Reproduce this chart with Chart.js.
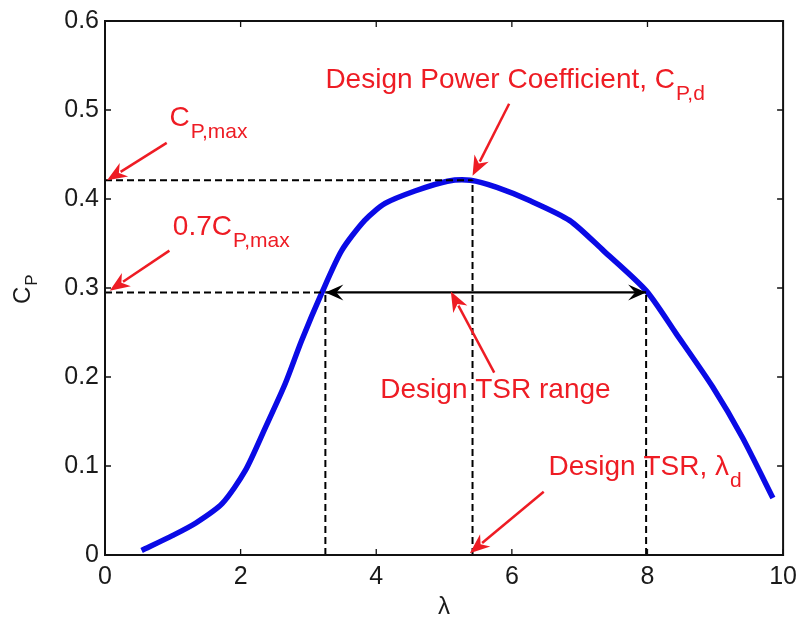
<!DOCTYPE html>
<html>
<head>
<meta charset="utf-8">
<script src="https://cdn.jsdelivr.net/npm/chart.js@4.4.1/dist/chart.umd.min.js"></script>
<style>
  html, body { margin: 0; padding: 0; background: #ffffff; }
  #wrap { width: 804px; height: 624px; }
</style>
</head>
<body>
<div id="wrap"><canvas id="c" width="804" height="624"></canvas></div>
<script>
// ---- Data ----
const lambdaVals = [0.54, 1.0, 1.34, 1.73, 2.07, 2.37, 2.66, 2.9, 3.2, 3.49, 3.83, 4.13, 4.57, 5.05, 5.39, 5.78, 6.27, 6.85, 7.35, 7.98, 8.42, 8.96, 9.4, 9.85];
const cpVals     = [0.005, 0.022, 0.036, 0.058, 0.095, 0.144, 0.193, 0.241, 0.295, 0.342, 0.376, 0.395, 0.409, 0.42, 0.421, 0.413, 0.398, 0.376, 0.342, 0.297, 0.249, 0.189, 0.132, 0.064];

const xTickLabels = ['0', '2', '4', '6', '8', '10'];
const yTickLabels = ['0', '0.1', '0.2', '0.3', '0.4', '0.5', '0.6'];

// key values
const cpMax = 0.421;
const cp07 = 0.295;
const lambdaLow = 3.25;
const lambdaDesign = 5.42;
const lambdaHigh = 7.98;

// dashed guide lines [x0,y0,x1,y1]
const guideCpMax   = [0, cpMax, lambdaDesign, cpMax];
const guideCp07    = [0, cp07, lambdaLow, cp07];
const guideLow     = [lambdaLow, 0, lambdaLow, cp07];
const guideDesign  = [lambdaDesign, 0, lambdaDesign, cpMax];
const guideHigh    = [lambdaHigh, 0, lambdaHigh, cp07];
// double arrow (range)
const rangeArrow   = [lambdaLow, cp07, lambdaHigh, cp07];

// red annotation arrows: [fromX, fromY, tipX, tipY]
const arrowCpMax   = [0.91, 0.463, 0.03, 0.421];
const arrowCp07    = [0.95, 0.342, 0.07, 0.297];
const arrowDesignC = [5.96, 0.507, 5.42, 0.426];
const arrowRange   = [5.74, 0.205, 5.10, 0.296];
const arrowTSR     = [6.47, 0.071, 5.38, 0.002];

// red labels: [x, y(baseline), main text, subscript]
const labelDesignC = [3.25, 0.525, 'Design Power Coefficient, C', 'P,d'];
const labelCpMax   = [0.95, 0.482, 'C', 'P,max'];
const labelCp07    = [1.00, 0.359, '0.7C', 'P,max'];
const labelRange   = [4.06, 0.176, 'Design TSR range', ''];
const labelTSR     = [6.54, 0.090, 'Design TSR, \u03BB', 'd'];

const FONT = "'Liberation Sans', Arial, Helvetica, sans-serif";
const RED = '#ee1c24';
const INK = '#1a1a1a';

function seg(a) { return [{x: a[0], y: a[1]}, {x: a[2], y: a[3]}]; }
function dashedDs(a) {
  return { data: seg(a), borderColor: '#000', borderWidth: 2, borderDash: [7, 4], pointRadius: 0, fill: false, tension: 0 };
}

const annotPlugin = {
  id: 'annot',
  afterDatasetsDraw(chart) {
    const ctx = chart.ctx;
    const xs = chart.scales.x, ys = chart.scales.y;
    const px = v => xs.getPixelForValue(v);
    const py = v => ys.getPixelForValue(v);
    const a = chart.chartArea;

    ctx.save();
    // frame
    ctx.strokeStyle = '#111';
    ctx.lineWidth = 2;
    ctx.strokeRect(a.left, a.top, a.right - a.left, a.bottom - a.top);
    // inward ticks
    ctx.lineWidth = 1.3;
    const tl = 6;
    xs.ticks.forEach(t => {
      const x = px(t.value);
      ctx.beginPath();
      ctx.moveTo(x, a.bottom); ctx.lineTo(x, a.bottom - tl);
      ctx.moveTo(x, a.top); ctx.lineTo(x, a.top + tl);
      ctx.stroke();
    });
    ys.ticks.forEach(t => {
      const y = py(t.value);
      ctx.beginPath();
      ctx.moveTo(a.left, y); ctx.lineTo(a.left + tl, y);
      ctx.moveTo(a.right, y); ctx.lineTo(a.right - tl, y);
      ctx.stroke();
    });

    // black double arrow heads
    function blackHead(xTip, yTip, dir) {
      const L = 18, W = 8, notch = 11;
      ctx.beginPath();
      ctx.moveTo(xTip, yTip);
      ctx.lineTo(xTip - dir * L, yTip - W);
      ctx.lineTo(xTip - dir * notch, yTip);
      ctx.lineTo(xTip - dir * L, yTip + W);
      ctx.closePath();
      ctx.fillStyle = '#000';
      ctx.fill();
    }
    blackHead(px(rangeArrow[0]), py(rangeArrow[1]), -1);
    blackHead(px(rangeArrow[2]), py(rangeArrow[3]), 1);

    // red arrows
    function redArrow(arr) {
      const x0 = px(arr[0]), y0 = py(arr[1]), x1 = px(arr[2]), y1 = py(arr[3]);
      const ang = Math.atan2(y1 - y0, x1 - x0);
      const L = 20, W = 8;
      const bx = x1 - L * Math.cos(ang), by = y1 - L * Math.sin(ang);
      ctx.strokeStyle = RED;
      ctx.lineWidth = 2.5;
      ctx.beginPath();
      ctx.moveTo(x0, y0); ctx.lineTo(bx + 4 * Math.cos(ang), by + 4 * Math.sin(ang));
      ctx.stroke();
      const nx = -Math.sin(ang), ny = Math.cos(ang);
      ctx.fillStyle = RED;
      ctx.beginPath();
      ctx.moveTo(x1, y1);
      ctx.lineTo(bx + nx * W, by + ny * W);
      ctx.lineTo(x1 - (L - 6) * Math.cos(ang), y1 - (L - 6) * Math.sin(ang));
      ctx.lineTo(bx - nx * W, by - ny * W);
      ctx.closePath();
      ctx.fill();
    }
    [arrowCpMax, arrowCp07, arrowDesignC, arrowRange, arrowTSR].forEach(redArrow);

    // red labels
    function redLabel(l) {
      const x = px(l[0]), y = py(l[1]);
      ctx.fillStyle = RED;
      ctx.textBaseline = 'alphabetic';
      ctx.textAlign = 'left';
      ctx.font = '28px ' + FONT;
      ctx.fillText(l[2], x, y);
      if (l[3]) {
        const w = ctx.measureText(l[2]).width;
        ctx.font = '21px ' + FONT;
        ctx.fillText(l[3], x + w + 1, y + 12);
      }
    }
    [labelDesignC, labelCpMax, labelCp07, labelRange, labelTSR].forEach(redLabel);

    // y-axis title C_P (rotated)
    ctx.save();
    ctx.translate(30, 304);
    ctx.rotate(-Math.PI / 2);
    ctx.fillStyle = INK;
    ctx.textAlign = 'left';
    ctx.textBaseline = 'alphabetic';
    ctx.font = '24px ' + FONT;
    ctx.fillText('C', 0, 0);
    const cw = ctx.measureText('C').width;
    ctx.font = '17px ' + FONT;
    ctx.fillText('P', cw + 1, 7);
    ctx.restore();

    ctx.restore();
  }
};

const chart = new Chart(document.getElementById('c'), {
  type: 'line',
  data: {
    datasets: [
      dashedDs(guideCpMax),
      dashedDs(guideCp07),
      dashedDs(guideLow),
      dashedDs(guideDesign),
      dashedDs(guideHigh),
      { data: seg(rangeArrow), borderColor: '#000', borderWidth: 2.2, pointRadius: 0, fill: false, tension: 0 },
      {
        label: 'Cp',
        data: lambdaVals.map((l, i) => ({ x: l, y: cpVals[i] })),
        borderColor: '#0a0ae6',
        borderWidth: 5.5,
        pointRadius: 0,
        fill: false,
        tension: 0.25,
        borderCapStyle: 'butt',
        borderJoinStyle: 'round'
      }
    ]
  },
  options: {
    responsive: false,
    animation: false,
    events: [],
    layout: { padding: { top: 20, right: 16, left: 0, bottom: 0 } },
    plugins: { legend: { display: false }, tooltip: { enabled: false } },
    scales: {
      x: {
        type: 'linear',
        min: 0, max: 10,
        afterFit: s => { s.height = 69; },
        afterBuildTicks: s => { s.ticks = xTickLabels.map(t => ({ value: Number(t) })); },
        grid: { display: false, drawTicks: false },
        border: { display: false },
        ticks: {
          callback: (v, i) => xTickLabels[i],
          color: INK,
          font: { family: FONT, size: 25 },
          padding: 7,
          maxRotation: 0
        },
        title: { display: true, text: '\u03BB', color: INK, font: { family: FONT, size: 24 }, padding: { top: 0, bottom: 2 } }
      },
      y: {
        type: 'linear',
        min: 0, max: 0.6,
        afterFit: s => { s.width = 105; },
        afterBuildTicks: s => { s.ticks = yTickLabels.map(t => ({ value: Number(t) })); },
        grid: { display: false, drawTicks: false },
        border: { display: false },
        ticks: {
          callback: (v, i) => yTickLabels[i],
          color: INK,
          font: { family: FONT, size: 25 },
          padding: 6
        }
      }
    }
  },
  plugins: [annotPlugin]
});
</script>
</body>
</html>
